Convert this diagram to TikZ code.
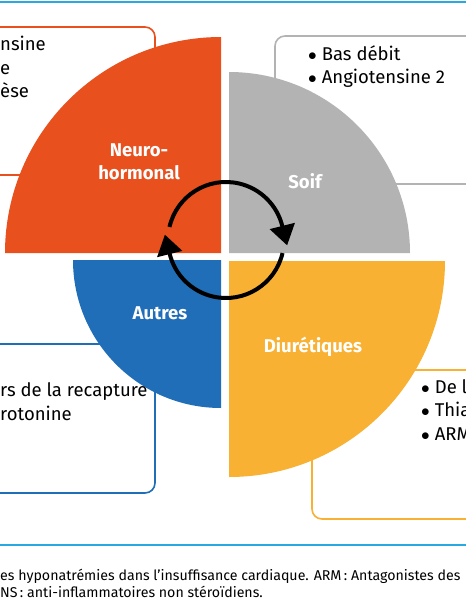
\documentclass[tikz,border=0pt]{standalone}
\usepackage{fontspec}
\setmainfont{Fira Sans}
\usepackage{xcolor}
\usetikzlibrary{arrows.meta,calc}
\definecolor{neuro}{HTML}{E8501E}
\definecolor{soif}{HTML}{B3B3B3}
\definecolor{autres}{HTML}{1F6EB7}
\definecolor{diur}{HTML}{F8B133}
\definecolor{rulecol}{HTML}{29A9E1}
\newcommand{\blt}{$\bullet$\hspace{5pt}}

\begin{document}
\begin{tikzpicture}[x=1pt, y=-1pt,
    listbox/.style={rounded corners=10pt, line width=1.6pt, fill=white},
    lbl/.style={text=white, align=center, font=\bfseries\fontsize{18.5}{23}\selectfont},
    item/.style={anchor=base west, inner sep=0pt, font=\fontsize{18.5}{20}\selectfont},
    capline/.style={anchor=base west, inner sep=0pt, font=\fontsize{14.2}{16}\selectfont},
    cyc/.style={line width=4pt, -{Triangle[length=20pt, width=25pt]}}]
  \useasboundingbox (0,0) rectangle (466,600);

  % rules
  \draw[rulecol, line width=2.5pt] (0,2) -- (466,2);
  \draw[rulecol, line width=2.5pt] (0,545) -- (466,545);

  % boxes behind the quarters
  \draw[listbox, draw=neuro] (-30,27) rectangle (155,175);
  \draw[listbox, draw=soif] (275,36) rectangle (500,184);
  \draw[listbox, draw=autres] (-30,344) rectangle (155,493);
  \draw[listbox, draw=diur] (312,370) rectangle (500,519);

  % quarters
  \fill[neuro] (221,253) -- (5,253) arc[start angle=180, end angle=270, radius=216] -- cycle;
  \fill[soif] (229,253) -- (410,253) arc[start angle=0, end angle=-90, radius=181] -- cycle;
  \fill[autres] (221,260) -- (73,260) arc[start angle=180, end angle=90, radius=148] -- cycle;
  \fill[diur] (229,261) -- (445,261) arc[start angle=0, end angle=90, radius=216] -- cycle;

  \node[lbl] (neurolbl) at (139,162) {Neuro-\\hormonal};
  \node[lbl] (soiflbl) at (305,181) {Soif};
  \node[lbl] (autreslbl) at (160,313) {Autres};
  \node[lbl] (diurlbl) at (313,347) {Diurétiques};

  % cycle
  \coordinate (hub) at (226,240);
  \draw[cyc] ($(hub)+(193:58)$) arc[start angle=193, end angle=346, radius=58] -- ++(76:20);
  \draw[cyc] ($(hub)+(13:58)$) arc[start angle=13, end angle=166, radius=58] -- ++(256:20);

  % box texts
  \node[item] (n1) at (0,50.7) {nsine};
  \node[item] (n2) at (0,74.3) {e};
  \node[item] (n3) at (0,97.7) {èse};
  \node[item] (s1) at (308,60) {\blt Bas débit};
  \node[item] (s2) at (308,83.3) {\blt Angiotensine 2};
  \node[item] (a1) at (0,396.7) {rs de la recapture};
  \node[item] (a2) at (0,420) {rotonine};
  \node[item] (d1) at (421,393) {\blt De l};
  \node[item] (d2) at (421,416.7) {\blt Thia};
  \node[item] (d3) at (421,440) {\blt ARM};

  % caption
  \node[capline] (cap1) at (0,580.5) {es hyponatrémies dans l’insuffisance cardiaque. ARM\,: Antagonistes des};
  \node[capline] (cap2) at (0,597.5) {NS\,: anti-inflammatoires non stéroïdiens.};
\end{tikzpicture}
\end{document}
